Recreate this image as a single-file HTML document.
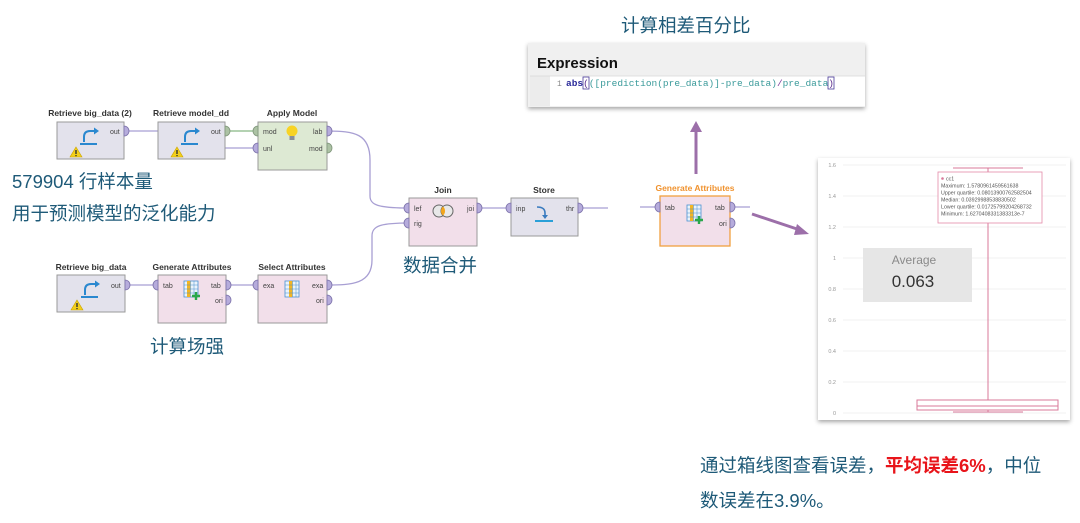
<!DOCTYPE html>
<html><head><meta charset="utf-8">
<style>
html,body{margin:0;padding:0;background:#fff;}
body{width:1080px;height:523px;overflow:hidden;position:relative;}
svg{position:absolute;left:0;top:0;}
.cn{font-family:"Liberation Sans","Noto Sans CJK SC",sans-serif;font-size:18.5px;fill:#1e5a78;}
.nl{font-family:"Liberation Sans",sans-serif;font-size:8.5px;font-weight:bold;fill:#333;text-anchor:middle;}
.pl{font-family:"Liberation Sans",sans-serif;font-size:7px;fill:#444;}
.ax{font-family:"Liberation Sans",sans-serif;font-size:5.5px;fill:#999;text-anchor:end;}
.tt{font-family:"Liberation Sans",sans-serif;font-size:5.3px;fill:#555;}
</style></head>
<body>
<svg width="1080" height="523" viewBox="0 0 1080 523" xmlns="http://www.w3.org/2000/svg">
<defs>
<filter id="sh" x="-5%" y="-10%" width="110%" height="125%">
<feDropShadow dx="0" dy="2" stdDeviation="2" flood-color="#000" flood-opacity="0.35"/>
</filter>
</defs>

<!-- connectors -->
<g fill="none" stroke="#a89fd3" stroke-width="1.3">
<path d="M124,131 L160,131 L160,148 L258,148"/>
<path d="M327,131 C355,131 370,134 370,160 L370,196 C370,205 378,208 409,208"/>
<path d="M327,285 C352,285 372,284 372,260 L372,236 C372,226 380,223 409,223"/>
<path d="M477,208 L511,208"/>
<path d="M578,208 L608,208"/>
<path d="M640,207 L660,207"/>
<path d="M730,207 L750,207"/>
<path d="M125,285 L158,285"/>
<path d="M226,285 L258,285"/>
</g>
<path d="M225,131 L258,131" stroke="#86b884" stroke-width="1.3" fill="none"/>

<!-- Nodes -->
<text class="nl" x="90" y="116">Retrieve big_data (2)</text>
<rect x="57" y="122" width="67" height="37" fill="#e3e2ec" stroke="#9a9a9a" stroke-width="1"/>
<text class="nl" x="191" y="116">Retrieve model_dd</text>
<rect x="158" y="122" width="67" height="37" fill="#e3e2ec" stroke="#9a9a9a" stroke-width="1"/>
<text class="nl" x="292" y="116">Apply Model</text>
<rect x="258" y="122" width="69" height="48" fill="#dde9d3" stroke="#9a9a9a" stroke-width="1"/>
<text class="nl" x="91" y="270">Retrieve big_data</text>
<rect x="57" y="275" width="68" height="37" fill="#e3e2ec" stroke="#9a9a9a" stroke-width="1"/>
<text class="nl" x="192" y="270">Generate Attributes</text>
<rect x="158" y="275" width="68" height="48" fill="#f2dfea" stroke="#9a9a9a" stroke-width="1"/>
<text class="nl" x="292" y="270">Select Attributes</text>
<rect x="258" y="275" width="69" height="48" fill="#f2dfea" stroke="#9a9a9a" stroke-width="1"/>
<text class="nl" x="443" y="193">Join</text>
<rect x="409" y="198" width="68" height="48" fill="#f2dfea" stroke="#9a9a9a" stroke-width="1"/>
<text class="nl" x="544" y="193">Store</text>
<rect x="511" y="198" width="67" height="38" fill="#e3e2ec" stroke="#9a9a9a" stroke-width="1"/>
<text class="nl" x="695" y="191" style="fill:#f0922e">Generate Attributes</text>
<rect x="660" y="196" width="70" height="50" fill="#f2dfea" stroke="#f0a040" stroke-width="1.3"/>

<!-- ports -->
<g stroke="#7c72aa" stroke-width="0.8" fill="#b6acdc">
<path d="M124,126 A5,5 0 0,1 124,136 Z"/>
<path d="M258,143 A5,5 0 0,0 258,153 Z"/>
<path d="M327,126 A5,5 0 0,1 327,136 Z"/>
<path d="M125,280 A5,5 0 0,1 125,290 Z"/>
<path d="M158,280 A5,5 0 0,0 158,290 Z"/>
<path d="M226,280 A5,5 0 0,1 226,290 Z"/>
<path d="M226,295 A5,5 0 0,1 226,305 Z"/>
<path d="M258,280 A5,5 0 0,0 258,290 Z"/>
<path d="M327,280 A5,5 0 0,1 327,290 Z"/>
<path d="M327,295 A5,5 0 0,1 327,305 Z"/>
<path d="M409,203 A5,5 0 0,0 409,213 Z"/>
<path d="M409,218 A5,5 0 0,0 409,228 Z"/>
<path d="M477,203 A5,5 0 0,1 477,213 Z"/>
<path d="M511,203 A5,5 0 0,0 511,213 Z"/>
<path d="M578,203 A5,5 0 0,1 578,213 Z"/>
<path d="M660,202 A5,5 0 0,0 660,212 Z"/>
<path d="M730,202 A5,5 0 0,1 730,212 Z"/>
<path d="M730,218 A5,5 0 0,1 730,228 Z"/>
</g>
<g stroke="#7f957a" stroke-width="0.8" fill="#acc2a4">
<path d="M225,126 A5,5 0 0,1 225,136 Z"/>
<path d="M258,126 A5,5 0 0,0 258,136 Z"/>
<path d="M327,143 A5,5 0 0,1 327,153 Z"/>
</g>

<!-- port labels -->
<g class="pl">
<text x="110" y="134">out</text>
<text x="211" y="134">out</text>
<text x="263" y="134">mod</text>
<text x="263" y="151">unl</text>
<text x="313" y="134">lab</text>
<text x="309" y="151">mod</text>
<text x="111" y="288">out</text>
<text x="163" y="288">tab</text>
<text x="211" y="288">tab</text>
<text x="215" y="303">ori</text>
<text x="263" y="288">exa</text>
<text x="312" y="288">exa</text>
<text x="316" y="303">ori</text>
<text x="414" y="211">lef</text>
<text x="414" y="226">rig</text>
<text x="467" y="211">joi</text>
<text x="516" y="211">inp</text>
<text x="566" y="211">thr</text>
<text x="665" y="210">tab</text>
<text x="715" y="210">tab</text>
<text x="719" y="226">ori</text>
</g>

<!-- icons: retrieve -->
<g>
<path d="M84,142 L84,137 Q84,131 90,131 L95,131" fill="none" stroke="#2a88cf" stroke-width="2"/>
<path d="M94,127.5 L99,131 L94,134.5 Z" fill="#2a88cf"/>
<line x1="80" y1="144" x2="97" y2="144" stroke="#2a88cf" stroke-width="2"/>
</g>
<g transform="translate(101,0)">
<path d="M84,142 L84,137 Q84,131 90,131 L95,131" fill="none" stroke="#2a88cf" stroke-width="2"/>
<path d="M94,127.5 L99,131 L94,134.5 Z" fill="#2a88cf"/>
<line x1="80" y1="144" x2="97" y2="144" stroke="#2a88cf" stroke-width="2"/>
</g>
<g transform="translate(1,153)">
<path d="M84,142 L84,137 Q84,131 90,131 L95,131" fill="none" stroke="#2a88cf" stroke-width="2"/>
<path d="M94,127.5 L99,131 L94,134.5 Z" fill="#2a88cf"/>
<line x1="80" y1="144" x2="97" y2="144" stroke="#2a88cf" stroke-width="2"/>
</g>
<!-- warnings -->
<g>
<path d="M76,147 L82,157 L70,157 Z" fill="#f3cf1a" stroke="#c9a300" stroke-width="0.6"/>
<rect x="75.3" y="150" width="1.4" height="4" fill="#333"/><rect x="75.3" y="155" width="1.4" height="1.2" fill="#333"/>
</g>
<g transform="translate(101,0)">
<path d="M76,147 L82,157 L70,157 Z" fill="#f3cf1a" stroke="#c9a300" stroke-width="0.6"/>
<rect x="75.3" y="150" width="1.4" height="4" fill="#333"/><rect x="75.3" y="155" width="1.4" height="1.2" fill="#333"/>
</g>
<g transform="translate(1,153)">
<path d="M76,147 L82,157 L70,157 Z" fill="#f3cf1a" stroke="#c9a300" stroke-width="0.6"/>
<rect x="75.3" y="150" width="1.4" height="4" fill="#333"/><rect x="75.3" y="155" width="1.4" height="1.2" fill="#333"/>
</g>

<!-- lightbulb -->
<circle cx="292" cy="131" r="5.5" fill="#f8d325"/>
<rect x="289.5" y="136" width="5" height="4" fill="#8a8f98"/>

<!-- generate attributes icons -->
<g>
<rect x="184" y="281" width="14" height="16" fill="#eaf3fb" stroke="#4a90d0" stroke-width="0.8"/>
<rect x="187" y="281" width="3.5" height="16" fill="#f3b523"/>
<path d="M184,285 H198 M184,289 H198 M184,293 H198 M190.5,281 V297 M194,281 V297" stroke="#4a90d0" stroke-width="0.5"/>
<path d="M196,292 V300 M192,296 H200" stroke="#2aa84a" stroke-width="2.4"/>
</g>
<g transform="translate(503,-76)">
<rect x="184" y="281" width="14" height="16" fill="#eaf3fb" stroke="#4a90d0" stroke-width="0.8"/>
<rect x="187" y="281" width="3.5" height="16" fill="#f3b523"/>
<path d="M184,285 H198 M184,289 H198 M184,293 H198 M190.5,281 V297 M194,281 V297" stroke="#4a90d0" stroke-width="0.5"/>
<path d="M196,292 V300 M192,296 H200" stroke="#2aa84a" stroke-width="2.4"/>
</g>
<g transform="translate(101,0)">
<rect x="184" y="281" width="14" height="16" fill="#eaf3fb" stroke="#4a90d0" stroke-width="0.8"/>
<rect x="188" y="281" width="3.5" height="16" fill="#f3b523"/>
<path d="M184,285 H198 M184,289 H198 M184,293 H198 M191.5,281 V297 M195,281 V297" stroke="#4a90d0" stroke-width="0.5"/>
</g>

<!-- join icon -->
<circle cx="439" cy="211" r="6" fill="#e8e8e8" stroke="#666" stroke-width="1"/>
<circle cx="447" cy="211" r="6" fill="#e8e8e8" stroke="#666" stroke-width="1"/>
<path d="M443,206.5 A6,6 0 0,1 443,215.5 A6,6 0 0,1 443,206.5 Z" fill="#f2a51c"/>
<!-- store icon -->
<path d="M537,207 Q545,207 545,213 L545,217" fill="none" stroke="#3a7bbf" stroke-width="1.6"/>
<path d="M542,215 L545,219 L548,215 Z" fill="#3a7bbf"/>
<line x1="535" y1="221" x2="553" y2="221" stroke="#2aa0d8" stroke-width="2"/>

<!-- purple arrows -->
<line x1="696" y1="174" x2="696" y2="131" stroke="#9c6fa9" stroke-width="3"/>
<path d="M690,132 L696,121 L702,132 Z" fill="#9c6fa9"/>
<line x1="752" y1="214" x2="800" y2="230" stroke="#9c6fa9" stroke-width="3"/>
<path d="M797,224 L809,234 L794,235 Z" fill="#9c6fa9"/>

<!-- Chinese texts -->
<text class="cn" x="12" y="188">579904 行样本量</text>
<text class="cn" x="12" y="220">用于预测模型的泛化能力</text>
<text class="cn" x="150" y="353">计算场强</text>
<text class="cn" x="403" y="272">数据合并</text>
<text class="cn" x="621" y="32">计算相差百分比</text>
<text class="cn" x="700" y="472">通过箱线图查看误差，<tspan fill="#e8141a" font-weight="bold">平均误差6%</tspan>，中位</text>
<text class="cn" x="700" y="507">数误差在3.9%。</text>

<!-- Expression panel -->
<g filter="url(#sh)">
<rect x="528" y="43" width="337" height="64" fill="#f0f0f0"/>
</g>
<rect x="530" y="76" width="335" height="30" fill="#ffffff"/>
<rect x="530" y="76" width="20" height="30" fill="#ececec"/>
<line x1="530" y1="76" x2="865" y2="76" stroke="#d8d8d8" stroke-width="0.8"/>
<text x="537" y="68" style="font-family:'Liberation Sans',sans-serif;font-size:15px;font-weight:bold;fill:#111">Expression</text>
<text x="557" y="86" style="font-family:'Liberation Mono',monospace;font-size:8px;fill:#888">1</text>
<text x="566" y="86" style="font-family:'Liberation Mono',monospace;font-size:9.5px;fill:#3a9a9a"><tspan fill="#2a2a9a" font-weight="bold">abs</tspan><tspan fill="#5a2a8a">(</tspan>([prediction(pre_data)]-pre_data)<tspan fill="#7a3a9a">/</tspan>pre_data<tspan fill="#5a2a8a">)</tspan></text>
<rect x="583" y="77" width="6" height="12" fill="none" stroke="#4a3a9a" stroke-width="0.8"/>
<rect x="828" y="77" width="6" height="12" fill="none" stroke="#4a3a9a" stroke-width="0.8"/>

<!-- Chart panel -->
<g filter="url(#sh)">
<rect x="818" y="158" width="252" height="262" fill="#ffffff"/>
</g>
<g stroke="#ececec" stroke-width="0.7">
<line x1="843" y1="165" x2="1066" y2="165"/>
<line x1="843" y1="196" x2="1066" y2="196"/>
<line x1="843" y1="227" x2="1066" y2="227"/>
<line x1="843" y1="258" x2="1066" y2="258"/>
<line x1="843" y1="289" x2="1066" y2="289"/>
<line x1="843" y1="320" x2="1066" y2="320"/>
<line x1="843" y1="351" x2="1066" y2="351"/>
<line x1="843" y1="382" x2="1066" y2="382"/>
<line x1="843" y1="413" x2="1066" y2="413"/>
</g>
<g class="ax">
<text x="836" y="167">1.6</text>
<text x="836" y="198">1.4</text>
<text x="836" y="229">1.2</text>
<text x="836" y="260">1</text>
<text x="836" y="291">0.8</text>
<text x="836" y="322">0.6</text>
<text x="836" y="353">0.4</text>
<text x="836" y="384">0.2</text>
<text x="836" y="415">0</text>
</g>
<g stroke="#d9789a" stroke-width="1" fill="none">
<line x1="953" y1="168" x2="1023" y2="168"/>
<line x1="988" y1="168" x2="988" y2="400"/>
<rect x="917" y="400" width="141" height="10"/>
<line x1="917" y1="406" x2="1058" y2="406"/>
<line x1="988" y1="410" x2="988" y2="412"/>
<line x1="953" y1="412" x2="1023" y2="412"/>
</g>
<!-- tooltip -->
<rect x="938" y="172" width="104" height="51" fill="#ffffff" stroke="#e38aa9" stroke-width="0.8"/>
<circle cx="942.5" cy="178.5" r="1.3" fill="#d9789a"/>
<g class="tt">
<text x="946" y="180.5">cc1</text>
<text x="941" y="187.5">Maximum: 1.5780961459561638</text>
<text x="941" y="194.5">Upper quartile: 0.08013900762582504</text>
<text x="941" y="201.5">Median: 0.03929988538830502</text>
<text x="941" y="208.5">Lower quartile: 0.01725799204268732</text>
<text x="941" y="215.5">Minimum: 1.6270408331383313e-7</text>
</g>
<!-- average box -->
<rect x="863" y="248" width="109" height="54" fill="#e6e6e6"/>
<text x="914" y="264" style="font-family:'Liberation Sans',sans-serif;font-size:12px;fill:#8a8a8a;text-anchor:middle">Average</text>
<text x="913" y="287" style="font-family:'Liberation Sans',sans-serif;font-size:17px;fill:#333;text-anchor:middle">0.063</text>
</svg>
</body></html>
